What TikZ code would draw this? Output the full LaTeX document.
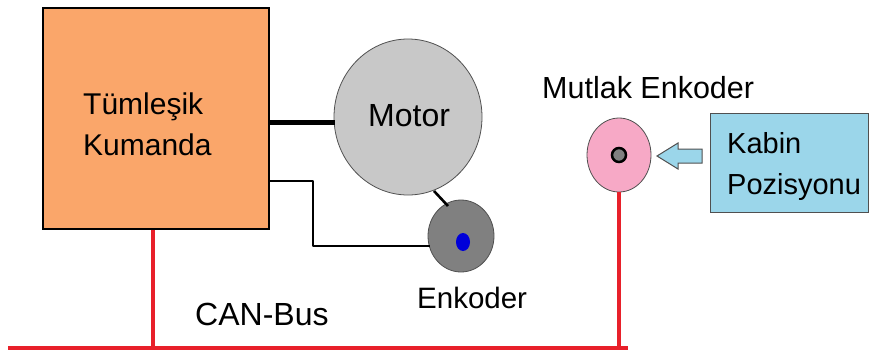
\documentclass[tikz,border=0pt]{standalone}
\usepackage{fontspec}
\setmainfont{Liberation Sans}
\usetikzlibrary{shapes.geometric}
\definecolor{boxorange}{HTML}{FAA66A}
\definecolor{motorgray}{HTML}{C8C8C8}
\definecolor{encgray}{HTML}{808080}
\definecolor{pinkenc}{HTML}{F7A9C6}
\definecolor{kabinblue}{HTML}{9BD6EA}
\definecolor{busred}{HTML}{E8202A}
\definecolor{edgegray}{HTML}{505050}
\begin{document}
\begin{tikzpicture}[x=1pt,y=-1pt,
  lbl/.style={anchor=base west,inner sep=0pt,font=\fontsize{#1}{#1}\selectfont},
  bus/.style={draw=busred,line width=4.5pt},
  wire/.style={draw=black,line width=2.6pt},
  thickwire/.style={draw=black,line width=5pt},
  disc/.style={ellipse,inner sep=0pt,draw=edgegray,line width=0.8pt}]
\useasboundingbox (0,0) rectangle (872,354);
% shapes
\node[draw=black,line width=2.2pt,fill=boxorange,minimum width=226pt,minimum height=221pt,inner sep=0pt] (box) at (156,118.5) {};
\node[disc,fill=motorgray,minimum width=148pt,minimum height=156pt] (motor) at (408,117) {};
\node[disc,fill=encgray,minimum width=66pt,minimum height=72pt] (enc) at (461,236) {};
\node[ellipse,inner sep=0pt,fill=blue!85!black,minimum width=14pt,minimum height=18pt] (encdot) at (463,242) {};
\node[disc,fill=pinkenc,minimum width=64pt,minimum height=74pt] (abs) at (619,155) {};
\node[circle,inner sep=0pt,draw=black,line width=2.5pt,fill=encgray,minimum size=14pt] (absdot) at (619,155) {};
\node[draw=edgegray,line width=1pt,fill=kabinblue,minimum width=158pt,minimum height=99pt,inner sep=0pt] (kabin) at (789,162.5) {};
% arrow
\draw[draw=edgegray,line width=1pt,fill=kabinblue,line join=miter]
  (702,149) -- (678,149) -- (678,143) -- (657,156) -- (678,169) -- (678,163) -- (702,163) -- cycle;
% texts
\node[lbl=30] (t1) at (83,114) {Tümleşik};
\node[lbl=30] (t2) at (83,155) {Kumanda};
\node[lbl=32] (tm) at (368,126) {Motor};
\node[lbl=30.5] (tme) at (542,98) {Mutlak Enkoder};
\node[lbl=29] (tk1) at (727,153) {Kabin};
\node[lbl=29] (tk2) at (727,194) {Pozisyonu};
\node[lbl=32] (tcan) at (195,325) {CAN-Bus};
\node[lbl=29.5] (tenc) at (417,308) {Enkoder};
% connectors
\coordinate (m1) at (270,122);
\coordinate (m2) at (335,122);
\draw[thickwire] (m1) -- (m2);
\coordinate (w1) at (268,181);
\coordinate (w2) at (313,181);
\coordinate (w3) at (313,246);
\coordinate (w4) at (430,246);
\draw[wire,line join=round] (w1) -- (w2) -- (w3) -- (w4);
\coordinate (e1) at (434,191);
\coordinate (e2) at (448,206);
\draw[wire] (e1) -- (e2);
\coordinate (busL) at (8,348);
\coordinate (busR) at (628,348);
\coordinate (bj1) at (153,348);
\coordinate (bj2) at (619,348);
\draw[bus] (busL) -- (busR);
\draw[bus] (box.south -| bj1) -- (bj1);
\draw[bus] (abs.south) -- (bj2);
\end{tikzpicture}
\end{document}
